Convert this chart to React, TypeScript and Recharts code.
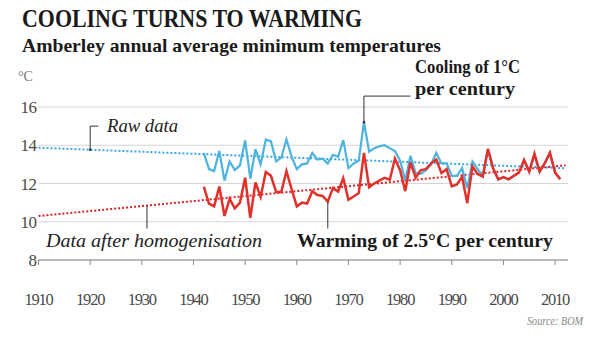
import { LineChart, Line, XAxis, YAxis, CartesianGrid, ReferenceLine, ReferenceDot } from "recharts";

// annual average minimum temperatures, Amberley, 1942-2011
const firstYear = 1942;
const rawTemps = [
  13.6, 12.75, 12.65, 13.7, 12.15, 13.15, 12.7, 12.95, 14.25, 12.25,
  13.8, 13.0, 14.3, 14.2, 13.15, 13.35, 14.3, 13.4, 12.75, 13.0,
  13.05, 13.6, 13.25, 13.3, 13.05, 13.5, 13.4, 14.27, 12.8, 13.05,
  13.2, 15.2, 13.67, 13.85, 13.95, 14.0, 13.85, 13.7, 13.2, 12.15,
  13.45, 12.55, 12.5, 12.7, 13.0, 13.6, 13.05, 13.05, 12.4, 12.4,
  12.8, 11.75, 13.15, 12.75, 12.4, 13.8, 12.8, 12.22, 12.33, 12.22,
  12.4, 12.57, 13.23, 12.62, 13.55, 12.62, 13.06, 13.6, 12.57, 12.22,
];
const homogTemps = [
  11.84, 10.95, 10.8, 11.84, 10.3, 11.2, 10.7, 11.0, 12.3, 10.2,
  12.05, 11.3, 12.6, 12.4, 11.55, 11.55, 12.65, 11.7, 10.8, 11.0,
  10.95, 11.6, 11.4, 11.35, 11.05, 11.76, 11.58, 12.28, 11.15, 11.32,
  11.5, 13.6, 11.8, 12.0, 12.15, 12.3, 12.2, 13.3, 12.7, 11.6,
  13.1, 12.3, 12.7, 12.75, 13.05, 13.25, 12.55, 12.75, 11.85, 11.95,
  12.35, 10.97, 12.9, 12.5, 12.36, 13.8, 12.8, 12.22, 12.33, 12.22,
  12.4, 12.57, 13.23, 12.62, 13.55, 12.62, 13.06, 13.6, 12.57, 12.22,
];

// trend lines (endpoints)
const trendYears = [1910, 2012];
const rawTrend = [13.87, 12.8];
const homogTrend = [10.3, 12.95];

const xTicks = [1910, 1920, 1930, 1940, 1950, 1960, 1970, 1980, 1990, 2000, 2010];
const yTicks = [8, 10, 12, 14, 16];

const RAW = "#4cb2e0";
const HOMOG = "#e2312a";
const SERIF = "'Liberation Serif', 'DejaVu Serif', serif";

const series = rawTemps.map((t, i) => ({ year: firstYear + i, raw: t, homog: homogTemps[i] }));
const data = [
  { year: trendYears[0], rawTrend: rawTrend[0], homogTrend: homogTrend[0] },
  ...series,
  { year: trendYears[1], rawTrend: rawTrend[1], homogTrend: homogTrend[1] },
];

const trendAt = (vals: number[], year: number) =>
  vals[0] + ((vals[1] - vals[0]) * (year - trendYears[0])) / (trendYears[1] - trendYears[0]);

const leader = { stroke: "#333", strokeWidth: 1, ifOverflow: "visible" as const };

export default function App() {
  const spikeYear = 1973;
  const spike = rawTemps[spikeYear - firstYear];
  const lowYear = 1966;
  const low = homogTemps[lowYear - firstYear];
  return (
    <div style={{ position: "absolute", left: 0, top: 0, width: 604, height: 340, background: "#fff" }}>
      <LineChart width={604} height={340} data={data} margin={{ top: 107, right: 36, bottom: 40, left: 0 }}>
        <CartesianGrid vertical={false} stroke="#d4d4d4" />
        <XAxis
          dataKey="year"
          type="number"
          domain={[1910, 2012.5]}
          ticks={xTicks}
          axisLine={{ stroke: "#888" }}
          tickLine={{ stroke: "#888" }}
          tickSize={5}
          tickMargin={28}
          height={40}
          tick={{ fill: "#4a4a4a", fontSize: 16.5, fontFamily: SERIF, letterSpacing: -1.2 }}
        />
        <YAxis
          type="number"
          domain={[8, 16]}
          ticks={yTicks}
          width={38.5}
          axisLine={false}
          tickLine={false}
          tickSize={0}
          tickMargin={2}
          tick={{ fill: "#4a4a4a", fontSize: 17, fontFamily: SERIF, letterSpacing: -0.5 }}
        />
        <Line dataKey="rawTrend" stroke="#3aa8dc" strokeWidth={2} strokeDasharray="2 2" dot={false} connectNulls isAnimationActive={false} />
        <Line dataKey="homogTrend" stroke="#d8232a" strokeWidth={2} strokeDasharray="2 2" dot={false} connectNulls isAnimationActive={false} />
        <Line dataKey="raw" stroke={RAW} strokeWidth={2.2} dot={false} isAnimationActive={false} />
        <Line dataKey="homog" stroke={HOMOG} strokeWidth={2.5} dot={false} isAnimationActive={false} />

        {/* Raw data leader */}
        <ReferenceLine segment={[{ x: 1920, y: trendAt(rawTrend, 1920) }, { x: 1920, y: 15.0 }]} {...leader} />
        <ReferenceLine segment={[{ x: 1920, y: 15.0 }, { x: 1921.6, y: 15.0 }]} {...leader} />
        <ReferenceDot x={1920} y={trendAt(rawTrend, 1920)} r={1.3} fill="#333" stroke="none" />
        {/* homogenised leader */}
        <ReferenceLine segment={[{ x: 1931, y: trendAt(homogTrend, 1931) }, { x: 1931, y: 9.65 }]} {...leader} />
        {/* warming leader */}
        <ReferenceLine segment={[{ x: lowYear, y: low }, { x: lowYear, y: 9.65 }]} {...leader} />
        {/* cooling leader */}
        <ReferenceLine segment={[{ x: spikeYear, y: spike }, { x: spikeYear, y: 16.57 }]} {...leader} />
        <ReferenceLine segment={[{ x: spikeYear, y: 16.57 }, { x: 1982, y: 16.57 }]} {...leader} />
        <ReferenceDot x={spikeYear} y={spike} r={1.3} fill="#333" stroke="none" />
      </LineChart>

      <svg width={604} height={340} style={{ position: "absolute", left: 0, top: 0, pointerEvents: "none" }} fontFamily={SERIF}>
        <text x={22} y={27} fontSize={26} fontWeight="bold" fill="#1a1a1a" textLength={340} lengthAdjust="spacingAndGlyphs">
          COOLING TURNS TO WARMING
        </text>
        <text x={22} y={52} fontSize={19} fontWeight="bold" fill="#1a1a1a" textLength={419} lengthAdjust="spacingAndGlyphs">
          Amberley annual average minimum temperatures
        </text>
        <text x={18} y={81} fontSize={14} fill="#777">°C</text>
        <text x={415} y={73} fontSize={19} fontWeight="bold" fill="#1a1a1a" textLength={105} lengthAdjust="spacingAndGlyphs">
          Cooling of 1°C
        </text>
        <text x={415} y={95} fontSize={19} fontWeight="bold" fill="#1a1a1a" textLength={100} lengthAdjust="spacingAndGlyphs">
          per century
        </text>
        <text x={107} y={132} fontSize={19} fontStyle="italic" fill="#222" textLength={71} lengthAdjust="spacingAndGlyphs">
          Raw data
        </text>
        <text x={46} y={247} fontSize={19} fontStyle="italic" fill="#222" textLength={216} lengthAdjust="spacingAndGlyphs">
          Data after homogenisation
        </text>
        <text x={297} y={247} fontSize={19} fontWeight="bold" fill="#1a1a1a" textLength={256} lengthAdjust="spacingAndGlyphs">
          Warming of 2.5°C per century
        </text>
        <text x={527} y={325} fontSize={12} fontStyle="italic" fill="#888" textLength={56} lengthAdjust="spacingAndGlyphs">
          Source: BOM
        </text>
      </svg>
    </div>
  );
}
